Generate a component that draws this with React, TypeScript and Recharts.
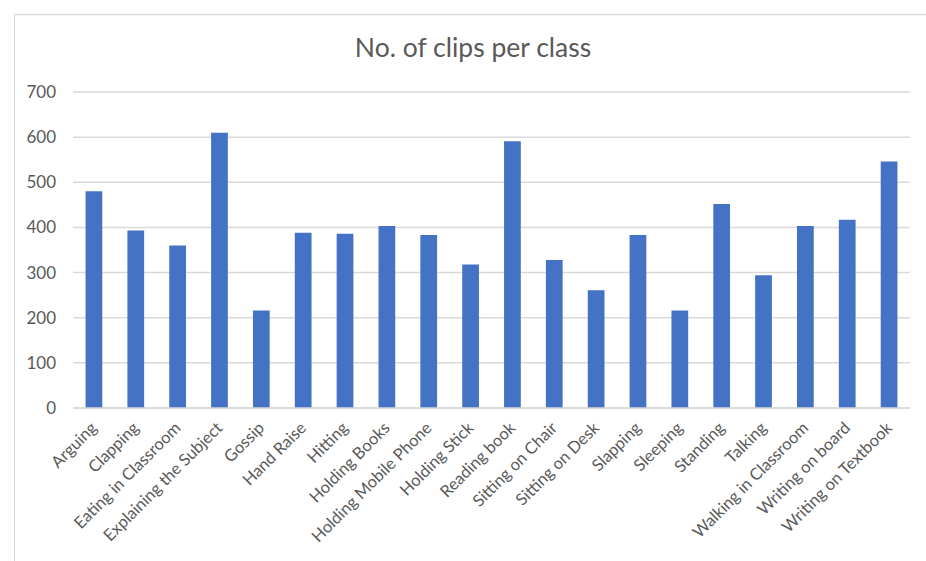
import React from "react";
import { BarChart, Bar, XAxis, YAxis, CartesianGrid } from "recharts";

const categories = [
  "Arguing",
  "Clapping",
  "Eating in Classroom",
  "Explaining the Subject",
  "Gossip",
  "Hand Raise",
  "Hitting",
  "Holding Books",
  "Holding Mobile Phone",
  "Holding Stick",
  "Reading book",
  "Sitting on Chair",
  "Sitting on Desk",
  "Slapping",
  "Sleeping",
  "Standing",
  "Talking",
  "Walking in Classroom",
  "Writing on board",
  "Writing on Textbook",
];

const clips = [480, 393, 360, 610, 216, 388, 386, 403, 383, 318, 591, 328, 261, 383, 216, 452, 294, 403, 417, 546];

const yTicks = [0, 100, 200, 300, 400, 500, 600, 700];

const title = "No. of clips per class";

const data = categories.map((name, i) => ({ name, clips: clips[i] }));

const FONT = "Lato, 'Open Sans', sans-serif";
const TEXT = "#595959";
const GRID = "#d9d9d9";

const XTick = (props: any) => {
  const { x, y, payload } = props;
  const tx = x + 4;
  const ty = y;
  return (
    <text
      x={tx}
      y={ty}
      transform={`rotate(-45 ${tx} ${ty})`}
      textAnchor="end"
      fill={TEXT}
      fontSize={16.5}
      fontFamily={FONT}
    >
      {payload.value}
    </text>
  );
};

export default function App() {
  return (
    <div style={{ position: "relative", width: 926, height: 561, background: "#fff" }}>
      <style>{`body{margin:0;}`}</style>
      <svg
        width={926}
        height={561}
        style={{ position: "absolute", left: 0, top: 0, pointerEvents: "none" }}
      >
        <line x1={14} y1={14.5} x2={926} y2={14.5} stroke={GRID} strokeWidth={1.5} />
        <line x1={14.5} y1={14} x2={14.5} y2={561} stroke={GRID} strokeWidth={1} />
        <text
          x={473}
          y={57}
          textAnchor="middle"
          fill={TEXT}
          fontSize={26.5}
          fontFamily={FONT}
        >
          {title}
        </text>
      </svg>
      <div style={{ position: "absolute", left: 0, top: 0 }}>
        <BarChart
          width={926}
          height={561}
          data={data}
          margin={{ top: 92, right: 16, bottom: 0, left: 0 }}
          barCategoryGap="70%"
        >
          <CartesianGrid vertical={false} stroke={GRID} strokeWidth={1.5} />
          <XAxis
            dataKey="name"
            interval={0}
            height={153}
            tickSize={0}
            tickMargin={21}
            axisLine={{ stroke: GRID, strokeWidth: 1.5 }}
            tickLine={false}
            tick={<XTick />}
          />
          <YAxis
            domain={[0, 700]}
            ticks={yTicks}
            width={73}
            tickSize={0}
            tickMargin={17}
            axisLine={false}
            tickLine={false}
            tick={{ fill: TEXT, fontSize: 17, fontFamily: FONT }}
          />
          <Bar dataKey="clips" fill="#4472C4" isAnimationActive={false} />
        </BarChart>
      </div>
    </div>
  );
}
